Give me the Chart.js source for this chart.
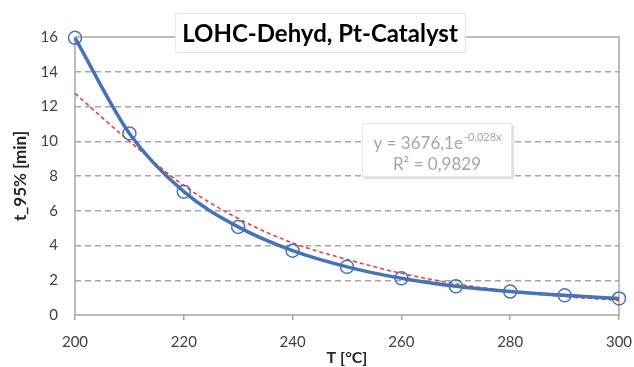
<!DOCTYPE html>
<html>
<head>
<meta charset="utf-8">
<script src="https://cdn.jsdelivr.net/npm/chart.js@4.4.0/dist/chart.umd.min.js"></script>
<style>
  html, body { margin: 0; padding: 0; background: #fff; }
  #wrap { width: 634px; height: 367px; }
</style>
</head>
<body>
<div id="wrap"><canvas id="c" width="634" height="367"></canvas></div>
<script>
const temperaturas = [200, 210, 220, 230, 240, 250, 260, 270, 280, 290, 300];
const t95Medido    = [15.95, 10.45, 7.1, 5.07, 3.7, 2.77, 2.11, 1.65, 1.35, 1.13, 0.95];
// exponential trendline as drawn (red dashed)
const t95Tendencia = [12.75, 10.0, 7.45, 5.55, 4.15, 3.2, 2.4, 1.8, 1.36, 1.06, 0.84];

const xTicks = [200, 220, 240, 260, 280, 300];
const yTicks = [0, 2, 4, 6, 8, 10, 12, 14, 16];

const tituloGrafico = 'LOHC-Dehyd, Pt-Catalyst';
const equacao = { base: 'y = 3676,1e', expoente: '-0,028x', r2: 'R² = 0,9829' };

const FONTE = 'Lato, "Open Sans", sans-serif';
const azul = '#4673b8';
const cinzaGrade = '#a6a6a6';

const pontosMedidos = temperaturas.map((t, i) => ({ x: t, y: t95Medido[i] }));
const pontosTendencia = temperaturas.map((t, i) => ({ x: t, y: t95Tendencia[i] }));

// moldura da area de plotagem
const pluginMoldura = {
  id: 'moldura',
  beforeDatasetsDraw(chart) {
    const { ctx, chartArea } = chart;
    const { left, right, top, bottom } = chartArea;
    ctx.save();
    ctx.strokeStyle = cinzaGrade;
    ctx.lineWidth = 1.5;
    ctx.strokeRect(left, top, right - left, bottom - top);
    ctx.restore();
  }
};

// titulo em caixa + caixa da equacao
const pluginCaixas = {
  id: 'caixas',
  afterDraw(chart) {
    const { ctx } = chart;
    ctx.save();

    // titulo
    ctx.font = 'bold 24px ' + FONTE;
    const wT = ctx.measureText(tituloGrafico).width;
    const cx = 320, cy = 34;
    const bx = cx - wT / 2 - 7, bw = wT + 14;
    ctx.fillStyle = '#ffffff';
    ctx.fillRect(bx, 13, bw, 40);
    ctx.strokeStyle = '#e3e3e3';
    ctx.lineWidth = 1;
    ctx.strokeRect(bx + 0.5, 13.5, bw, 39);
    ctx.fillStyle = '#000000';
    ctx.textAlign = 'center';
    ctx.textBaseline = 'middle';
    ctx.fillText(tituloGrafico, cx, cy);

    // caixa da equacao
    const ex = 362, ey = 123, ew = 150, eh = 54;
    ctx.fillStyle = 'rgba(0,0,0,0.12)';
    ctx.fillRect(ex + 2, ey + 2, ew, eh);
    ctx.fillStyle = '#ffffff';
    ctx.fillRect(ex, ey, ew, eh);
    ctx.strokeStyle = '#e6e6e6';
    ctx.strokeRect(ex + 0.5, ey + 0.5, ew - 1, eh - 1);

    ctx.fillStyle = '#a6a6a6';
    ctx.textAlign = 'left';
    ctx.textBaseline = 'alphabetic';
    ctx.font = '17px ' + FONTE;
    const wBase = ctx.measureText(equacao.base).width;
    ctx.font = '11px ' + FONTE;
    const wExp = ctx.measureText(equacao.expoente).width;
    const x0 = ex + ew / 2 - (wBase + wExp) / 2;
    ctx.font = '17px ' + FONTE;
    ctx.fillText(equacao.base, x0, 149);
    ctx.font = '11px ' + FONTE;
    ctx.fillText(equacao.expoente, x0 + wBase + 1, 141);
    ctx.font = '17px ' + FONTE;
    ctx.textAlign = 'center';
    ctx.fillText(equacao.r2, ex + ew / 2, 170);

    ctx.restore();
  }
};

new Chart(document.getElementById('c'), {
  type: 'line',
  data: {
    datasets: [
      {
        label: 't_95%',
        data: pontosMedidos,
        borderColor: azul,
        backgroundColor: 'transparent',
        borderWidth: 3.5,
        cubicInterpolationMode: 'monotone',
        pointRadius: 6.5,
        pointBorderWidth: 1.5,
        pointBorderColor: azul,
        pointBackgroundColor: 'rgba(255,255,255,0)',
        order: 1,
      },
      {
        label: 'Exponencial',
        data: pontosTendencia,
        borderColor: '#ee3b3b',
        backgroundColor: 'transparent',
        borderWidth: 1.6,
        borderDash: [4, 3],
        cubicInterpolationMode: 'monotone',
        pointRadius: 0,
        order: 2,
      }
    ]
  },
  plugins: [pluginMoldura, pluginCaixas],
  options: {
    responsive: false,
    animation: false,
    clip: false,
    layout: { padding: { top: 37, right: 15, left: 0, bottom: 0 } },
    plugins: { legend: { display: false }, tooltip: { enabled: false } },
    scales: {
      x: {
        type: 'linear',
        min: 200,
        max: 300,
        afterBuildTicks(scale) { scale.ticks = xTicks.map(v => ({ value: v })); },
        afterFit(scale) {
          scale.height = 52;
          scale.paddingRight = 0;
          scale.paddingLeft = 0;
        },
        grid: { drawOnChartArea: false, drawTicks: true, tickLength: 5, color: cinzaGrade, lineWidth: 1.5 },
        border: { display: false },
        ticks: { color: '#404040', padding: 13, font: { family: FONTE, size: 15 }, maxRotation: 0 },
        title: { display: true, text: 'T [°C]', color: '#262626', padding: { top: 0, bottom: 0 }, font: { family: FONTE, size: 16, weight: 'bold' } }
      },
      y: {
        min: 0,
        max: 16,
        afterBuildTicks(scale) { scale.ticks = yTicks.map(v => ({ value: v })); },
        afterFit(scale) { scale.width = 75; },
        grid: {
          drawTicks: false,
          lineWidth: 1.5,
          color: ctx => (ctx.tick && (ctx.tick.value === 0 || ctx.tick.value === 16)) ? 'rgba(0,0,0,0)' : cinzaGrade
        },
        border: { display: false, dash: [6, 4] },
        ticks: { color: '#404040', padding: 17, font: { family: FONTE, size: 15 } },
        title: { display: true, text: 't_95% [min]', color: '#262626', padding: { top: 10, bottom: 0 }, font: { family: FONTE, size: 17, weight: 'bold' } }
      }
    }
  }
});
</script>
</body>
</html>
